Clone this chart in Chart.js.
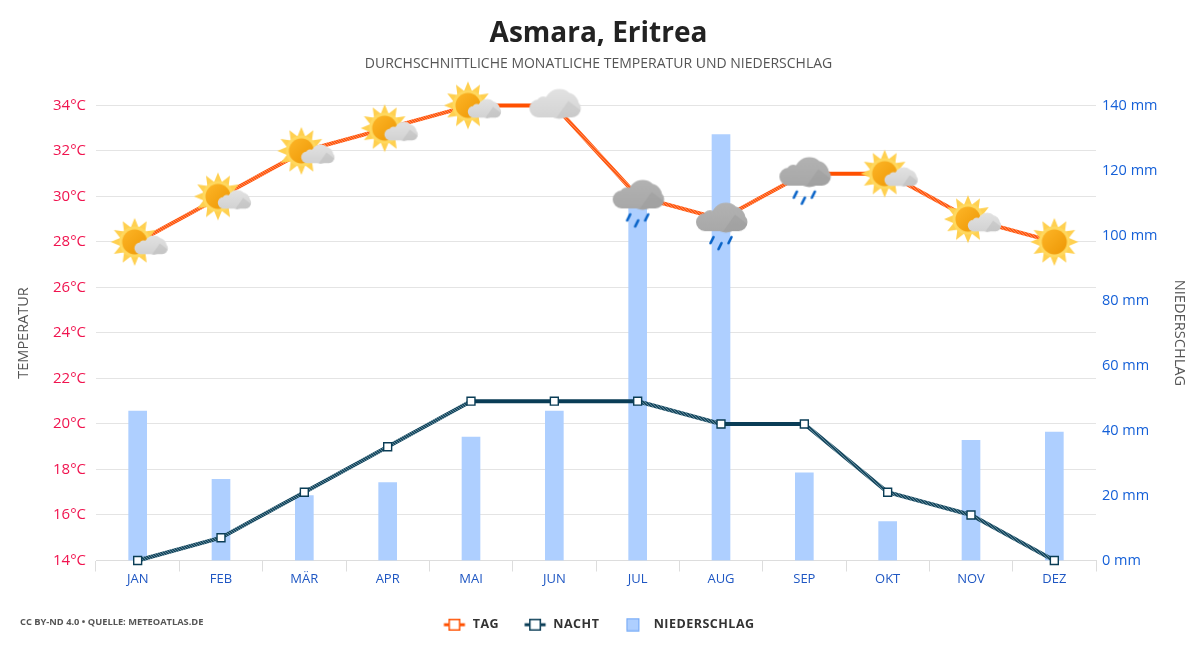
<!DOCTYPE html>
<html lang="de"><head><meta charset="utf-8"><title>Asmara, Eritrea</title>
<style>html,body{margin:0;padding:0;background:#fff}#w{width:1200px;height:650px;position:relative}</style>
<script src="https://cdn.jsdelivr.net/npm/chart.js@4/dist/chart.umd.min.js"></script>
</head><body><div id="w"><canvas id="c" width="1200" height="650"></canvas></div>
<script>
const categories = ["JAN","FEB","MÄR","APR","MAI","JUN","JUL","AUG","SEP","OKT","NOV","DEZ"];
const tagValues = [28,30,32,33,34,34,30,29,31,31,29,28];
const nachtValues = [14,15,17,19,21,21,21,20,20,17,16,14];
const niederschlagValues = [46,25,20,24,38,46,112,131,27,12,37,39.5];
const weatherKinds = ["s","s","s","s","s","c","r","r","r","s","s","o"];

const FONT = '"Open Sans"';
function mk(w,h,fn){const c=document.createElement('canvas');c.width=w;c.height=h;fn(c.getContext('2d'));return c;}
function cloud(g,ox,oy,s,top,bot,shade){
  g.save();g.translate(ox,oy);g.scale(s,s);
  const shape=()=>{g.beginPath();
    [[-16,3.5,9],[-11,-1.5,7],[-5,2,10],[5,-1,15],[12,0,12.5],[17.5,3.5,9]].forEach(c=>{g.moveTo(c[0]+c[2],c[1]);g.arc(c[0],c[1],c[2],0,Math.PI*2);});
    g.rect(-16,-1,33.5,13.5);};
  const lg=g.createLinearGradient(0,-16,0,13);lg.addColorStop(0,top);lg.addColorStop(1,bot);
  g.fillStyle=lg;shape();g.fill();
  shape();g.clip();
  g.fillStyle=shade;g.beginPath();g.moveTo(2,13);g.lineTo(27,13);g.lineTo(27,6);g.lineTo(14,-4);g.closePath();g.fill();
  g.restore();
}
function sun(g,x,y){
  g.fillStyle='#ffd050';g.beginPath();
  for(let i=0;i<12;i++){const a=i*Math.PI/6-Math.PI/2,b=a+Math.PI/12;
    g.lineTo(x+24*Math.cos(a),y+24*Math.sin(a));g.lineTo(x+15*Math.cos(b),y+15*Math.sin(b));}
  g.closePath();g.fill();
  g.fillStyle='#ffd85e';g.beginPath();g.arc(x,y,15.5,0,7);g.fill();
  const lg=g.createLinearGradient(x-10,y-10,x+10,y+10);lg.addColorStop(0,'#fcb324');lg.addColorStop(1,'#ef9a08');
  g.fillStyle=lg;g.beginPath();g.arc(x,y,12.5,0,7);g.fill();
}
const icons={
  s:mk(120,120,g=>{sun(g,57,60);cloud(g,73,64,.65,'#e2e2e2','#d2d2d2','rgba(170,170,170,.3)');}),
  o:mk(120,120,g=>{sun(g,60,60);}),
  c:mk(120,120,g=>{cloud(g,60,59.5,1,'#e2e2e2','#d4d4d4','rgba(180,180,180,.3)');}),
  r:mk(120,120,g=>{cloud(g,60,59.5,1,'#b2b2b2','#a8a8a8','rgba(150,150,150,.35)');
    g.strokeStyle='#0a64c8';g.lineWidth=2.6;g.lineCap='round';
    [[-9,21],[-1,27],[9,21]].forEach(p=>{g.beginPath();g.moveTo(60+p[0]-1.5,60+p[1]+3);g.lineTo(60+p[0]+1.5,60+p[1]-3);g.stroke();});}),
};
const tagPoints=weatherKinds.map(k=>icons[k]);
function hatch(a,b){const p=mk(3,3,g=>{g.fillStyle=a;g.fillRect(0,0,3,3);g.fillStyle=b;g.fillRect(0,0,1,1);g.fillRect(1,1,1,1);g.fillRect(2,2,1,1);});
  return document.createElement('canvas').getContext('2d').createPattern(p,'repeat');}
const tagHatch=hatch('#ff5a14','#ff8a55'), nachtHatch=hatch('#1a4a62','#5f8998');
const sloped=(c,pat)=>ctx=>ctx.p0.parsed.y!==ctx.p1.parsed.y?pat:c;
function legendLine(col){return mk(24,14,g=>{g.fillStyle=col;g.fillRect(1.5,5.5,21,3);g.fillStyle='#fff';g.fillRect(7,2,10,10);g.strokeStyle=col;g.lineWidth=1.5;g.strokeRect(6.75,1.75,10.5,10.5);});}
const legendBar=mk(24,14,g=>{g.fillStyle='#aecfff';g.fillRect(3,0.5,13,13);g.strokeStyle='#6fa5f5';g.lineWidth=1;g.strokeRect(3.5,1,12,12);});
const sourcePlugin={id:'source',afterDraw(ch){const g=ch.ctx;g.save();g.font='bold 9.3px '+FONT;g.fillStyle='#555';g.textBaseline='middle';g.textAlign='left';
  g.fillText('CC BY-ND 4.0 • QUELLE: METEOATLAS.DE',20,622.5);g.restore();}};
const spacingPlugin={id:'spacing',afterInit(ch){const l=ch.legend;if(!l)return;
  const wrap=n=>{const o=l[n];l[n]=function(){ch.ctx.save();ch.ctx.letterSpacing='0.5px';const r=o.apply(this,arguments);ch.ctx.restore();return r;};};
  wrap('fit');wrap('draw');}};

new Chart(document.getElementById('c'),{
  data:{labels:categories,datasets:[
    {type:'line',label:'TAG',data:tagValues,yAxisID:'y',order:1,borderColor:'#ff5000',borderWidth:4,tension:0,
      segment:{borderColor:sloped('#ff5000',tagHatch)},pointStyle:tagPoints,pointRadius:6,pointHoverRadius:6,clip:false},
    {type:'line',label:'NACHT',data:nachtValues,yAxisID:'y',order:2,borderColor:'#0a3d56',borderWidth:4,tension:0,
      segment:{borderColor:sloped('#0a3d56',nachtHatch)},pointStyle:'rect',pointRadius:5.6,pointBackgroundColor:'#fff',pointBorderColor:'#0a3d56',pointBorderWidth:1.4,clip:false},
    {type:'bar',label:'NIEDERSCHLAG',data:niederschlagValues,yAxisID:'y1',order:3,backgroundColor:'#aecfff',borderWidth:0,barThickness:18}
  ]},
  options:{responsive:false,animation:false,
    layout:{padding:{bottom:9,right:3}},
    plugins:{
      title:{display:true,text:'Asmara, Eritrea',color:'#222',font:{family:FONT,size:28,weight:'bold'},padding:{top:17.5,bottom:0}},
      subtitle:{display:true,text:'DURCHSCHNITTLICHE MONATLICHE TEMPERATUR UND NIEDERSCHLAG',color:'#555',font:{family:FONT,size:14,weight:'normal'},padding:{top:4.5,bottom:33}},
      legend:{position:'bottom',labels:{usePointStyle:true,pointStyleWidth:24,boxHeight:12,padding:24,color:'#333',font:{family:FONT,size:12.5,weight:'bold'},
        generateLabels:()=>[
          {text:'TAG',pointStyle:legendLine('#ff5000'),datasetIndex:0,fontColor:'#333',lineWidth:0},
          {text:'NACHT',pointStyle:legendLine('#0a3d56'),datasetIndex:1,fontColor:'#333',lineWidth:0},
          {text:'NIEDERSCHLAG',pointStyle:legendBar,datasetIndex:2,fontColor:'#333',lineWidth:0}]}},
      tooltip:{enabled:false}
    },
    scales:{
      x:{offset:true,border:{color:'#ddd',width:1},
        grid:{offset:true,drawOnChartArea:false,drawTicks:true,tickLength:11,color:'#ddd'},
        ticks:{color:'#1f57c3',font:{family:FONT,size:13},padding:0,maxRotation:0,autoSkip:false},
        afterFit(s){s.height=34;}},
      y:{position:'left',min:14,max:34,border:{display:false},
        grid:{color:'#e4e4e4',drawTicks:false},
        ticks:{stepSize:2,color:'#f0144f',font:{family:FONT,size:15},padding:10,callback:v=>v+'°C'},
        title:{display:true,text:'TEMPERATUR',color:'#555',font:{family:FONT,size:14.5},padding:{top:15,bottom:0}},
        afterFit(s){s.width=96;}},
      y1:{position:'right',min:0,max:140,border:{display:false},
        grid:{display:false,drawTicks:false},
        ticks:{stepSize:20,color:'#1560d8',font:{family:FONT,size:14.5},padding:6,callback:v=>v+' mm'},
        title:{display:true,text:'NIEDERSCHLAG',color:'#555',font:{family:FONT,size:14.6},padding:{top:9,bottom:0}},
        afterFit(s){s.width=101;}}
    }
  },
  plugins:[spacingPlugin,sourcePlugin]
});
</script></body></html>
